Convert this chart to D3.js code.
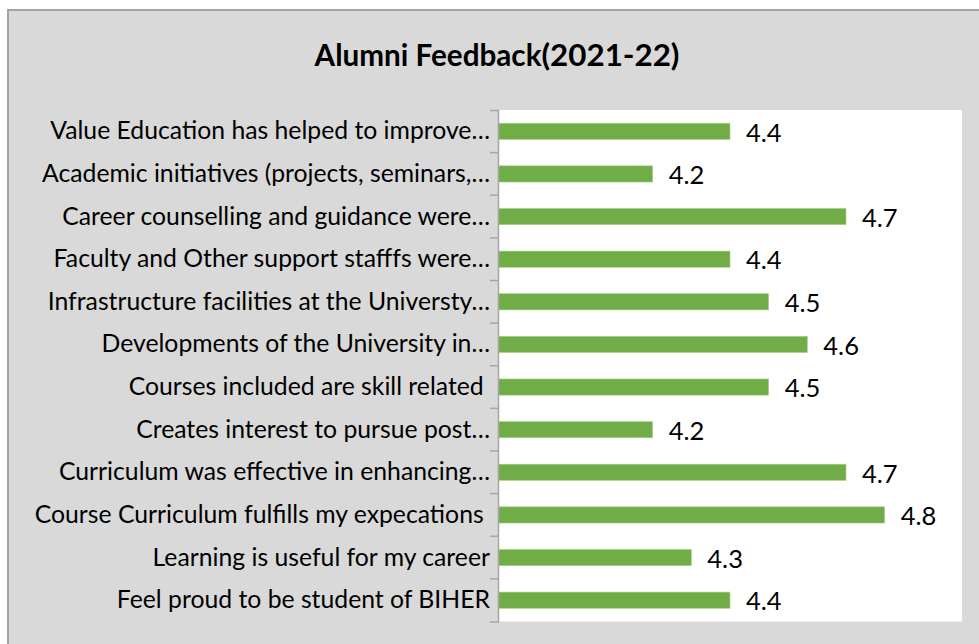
<!DOCTYPE html>
<html>
<head>
<meta charset="utf-8">
<script src="https://cdn.jsdelivr.net/npm/d3@7/dist/d3.min.js"></script>
<style>
  html, body { margin: 0; padding: 0; background: #ffffff; }
  svg { display: block; }
  text { font-family: Lato, "Open Sans", sans-serif; white-space: pre; }
</style>
</head>
<body>
<svg id="chart" width="979" height="644"></svg>
<script>
const titleMain = "Alumni Feedback";
const titleYear = "(2021-22)";
const categories = [
  "Value Education has helped to improve…",
  "Academic initiatives (projects, seminars,…",
  "Career counselling and guidance were…",
  "Faculty and Other support stafffs were…",
  "Infrastructure facilities at the Universty…",
  "Developments of the University in…",
  "Courses included are skill related ",
  "Creates interest to pursue post…",
  "Curriculum was effective in enhancing…",
  "Course Curriculum fulfills my expecations ",
  "Learning is useful for my career",
  "Feel proud to be student of BIHER"
];
const values = [4.4, 4.2, 4.7, 4.4, 4.5, 4.6, 4.5, 4.2, 4.7, 4.8, 4.3, 4.4];
const xDomain = [3.8, 5.0];

const svg = d3.select("#chart");

// chart area background with border
svg.append("rect")
  .attr("x", 8).attr("y", 10)
  .attr("width", 1000).attr("height", 700)
  .attr("fill", "#d9d9d9")
  .attr("stroke", "#a3a3a3").attr("stroke-width", 2);

const x = d3.scaleLinear().domain(xDomain).range([498, 962]);
const y = d3.scaleBand().domain(categories).range([110, 621.5])
  .paddingInner(0.62).paddingOuter(0.31);

// plot area
svg.append("rect")
  .attr("x", x.range()[0]).attr("y", y.range()[0])
  .attr("width", x.range()[1] - x.range()[0])
  .attr("height", y.range()[1] - y.range()[0])
  .attr("fill", "#ffffff");

function fit(sel, target) {
  const node = sel.node();
  const fs = parseFloat(sel.style("font-size"));
  const w = node.getComputedTextLength();
  sel.style("font-size", (fs * target / w) + "px");
}

// title
const title = svg.append("text")
  .attr("x", 497).attr("y", 66)
  .attr("text-anchor", "middle")
  .style("font-weight", "bold")
  .style("fill", "#000");
const t1 = title.append("tspan").text(titleMain).style("font-size", "24px");
const t2 = title.append("tspan").text(titleYear).style("font-size", "28px");
fit(t1, 227);
fit(t2, 138);

// bars
svg.append("g").selectAll("rect")
  .data(categories)
  .join("rect")
  .attr("x", x(xDomain[0]))
  .attr("y", d => y(d))
  .attr("width", (d, i) => x(values[i]) - x(xDomain[0]))
  .attr("height", y.bandwidth())
  .attr("fill", "#70ad47")
  .attr("stroke", "#a9d18e")
  .attr("stroke-width", 0.6);

// y axis with category labels
const yAxis = d3.axisLeft(y).tickSize(0).tickPadding(8).tickSizeOuter(8);
const gy = svg.append("g")
  .attr("transform", `translate(${x(xDomain[0])},0)`)
  .call(yAxis);
gy.select(".domain").attr("stroke", "#a6a6a6").attr("stroke-width", 1.5);
gy.selectAll(".tick text")
  .style("font-family", "Lato, 'Open Sans', sans-serif")
  .style("white-space", "pre")
  .style("font-size", "20px")
  .attr("fill", "#000");

// fit label font size to reference width of the first label
const ref = gy.selectAll(".tick text").filter(d => d === categories[0]);
const fs0 = 20;
const w0 = ref.node().getComputedTextLength();
const fs = fs0 * 440 / w0;
gy.selectAll(".tick text").style("font-size", fs + "px");

// boundary ticks between categories
const gap = (y.step() - y.bandwidth()) / 2;
gy.selectAll("line.bt")
  .data(categories.slice(1))
  .join("line")
  .attr("class", "bt")
  .attr("x1", -8).attr("x2", 0)
  .attr("y1", d => y(d) - gap).attr("y2", d => y(d) - gap)
  .attr("stroke", "#a6a6a6").attr("stroke-width", 1.5);

// value labels
svg.append("g").selectAll("text")
  .data(categories)
  .join("text")
  .attr("x", (d, i) => x(values[i]) + 16)
  .attr("y", d => y(d) + y.bandwidth() / 2)
  .attr("dy", "0.4em")
  .style("font-size", (fs * 1.03) + "px")
  .attr("fill", "#000")
  .text((d, i) => values[i].toFixed(1));
</script>
</body>
</html>
